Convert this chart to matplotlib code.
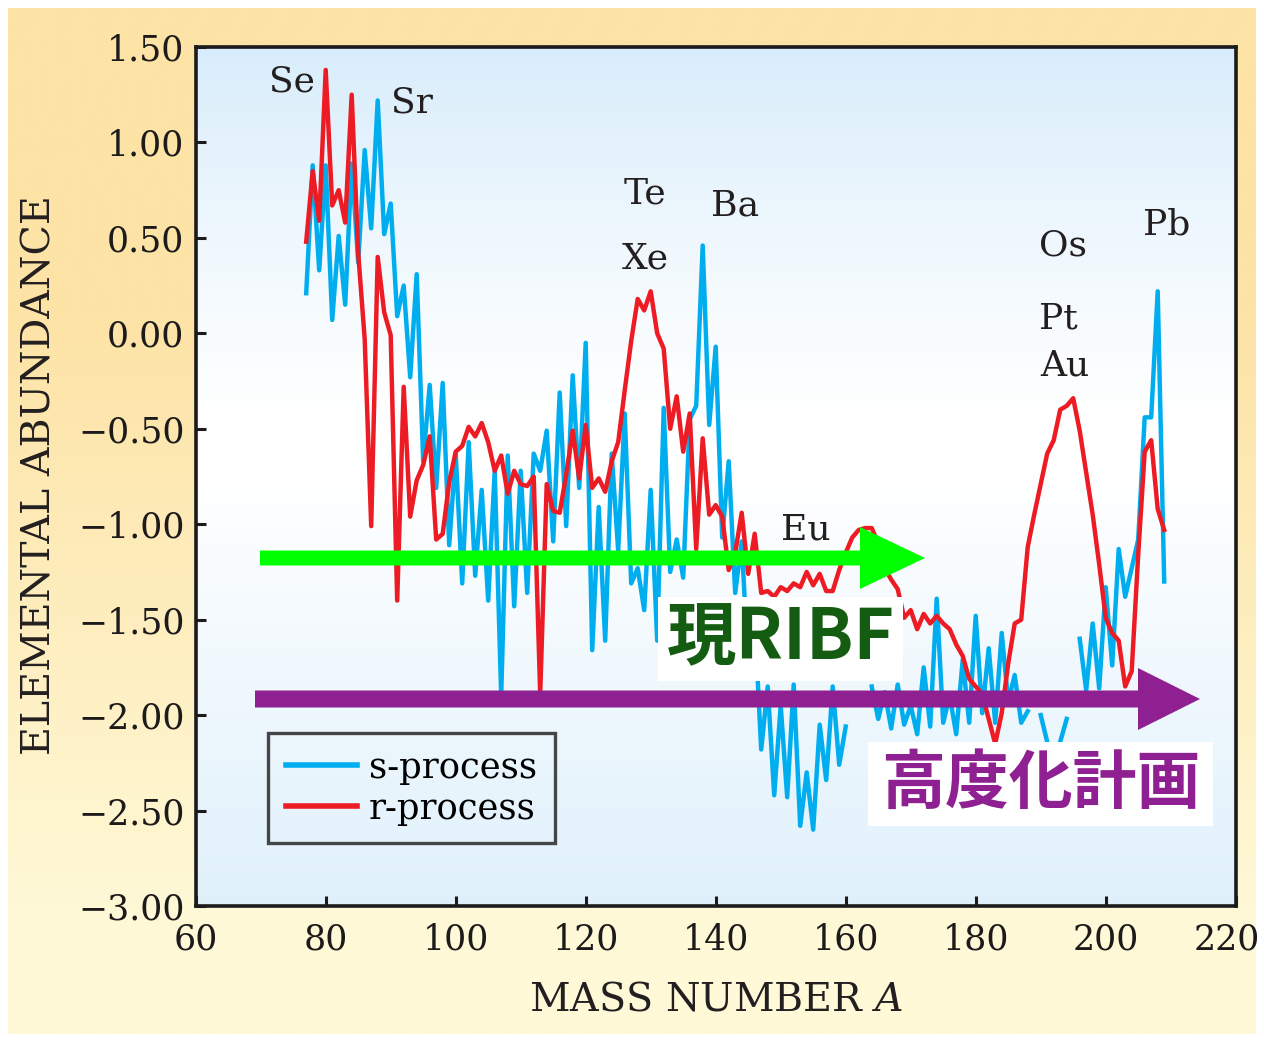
import numpy as np
import matplotlib.pyplot as plt
from matplotlib.patches import FancyArrow, Rectangle
from matplotlib.transforms import ScaledTranslation

W, H = 1264, 1042

# solar-system abundances split into s- and r-process parts, one value per mass number
mass_number = np.arange(77, 210)
s_process = np.array([
    0.21, 0.88, 0.33, 0.88, 0.07, 0.51, 0.15, 0.89, 0.37, 0.96,
    0.55, 1.22, 0.52, 0.68, 0.09, 0.25, -0.23, 0.31, -0.67, -0.27,
    -0.81, -0.26, -1.11, -0.63, -1.31, -0.57, -1.27, -0.82, -1.40, -0.72,
    -1.90, -0.64, -1.43, -0.72, -1.36, -0.63, -0.72, -0.51, -1.09, -0.31,
    -1.01, -0.22, -0.81, -0.05, -1.66, -0.91, -1.61, -0.63, -1.14, -0.42,
    -1.31, -1.23, -1.45, -0.82, -1.61, -0.39, -1.25, -1.08, -1.28, -0.45,
    -0.38, 0.46, -0.48, -0.07, -1.07, -0.67, -1.36, -1.09, -1.75, -1.50,
    -2.18, -1.85, -2.42, -1.95, -2.43, -1.84, -2.58, -2.30, -2.60, -2.05,
    -2.34, -1.85, -2.26, -2.06, np.nan, np.nan, np.nan, -1.85, -2.02, -1.88,
    -2.07, -1.84, -2.05, -1.95, -2.10, -1.75, -2.06, -1.39, -2.04, -1.90,
    -2.10, -1.71, -2.04, -1.48, -1.99, -1.65, -2.04, -1.57, -1.93, -1.79,
    -2.04, -1.98, np.nan, -2.00, -2.14, np.nan, -2.14, -2.02, np.nan, -1.60,
    -1.87, -1.52, -1.86, -1.33, -1.74, -1.13, -1.38, -1.23, -1.08, -0.44,
    -0.44, 0.22, -1.30])
r_process = np.array([
    0.48, 0.85, 0.59, 1.38, 0.67, 0.75, 0.58, 1.25, 0.42, -0.03,
    -1.01, 0.40, 0.11, -0.01, -1.40, -0.28, -0.96, -0.77, -0.69, -0.54,
    -1.08, -1.05, -0.78, -0.62, -0.59, -0.49, -0.54, -0.47, -0.57, -0.72,
    -0.64, -0.84, -0.72, -0.79, -0.80, -0.75, -1.89, -0.79, -0.93, -0.94,
    -0.74, -0.51, -0.76, -0.48, -0.81, -0.76, -0.83, -0.67, -0.57, -0.30,
    -0.04, 0.18, 0.12, 0.22, 0.00, -0.08, -0.50, -0.33, -0.62, -0.42,
    -1.13, -0.55, -0.95, -0.90, -0.96, -1.24, -1.15, -0.94, -1.26, -1.05,
    -1.36, -1.35, -1.38, -1.33, -1.35, -1.31, -1.33, -1.25, -1.32, -1.26,
    -1.35, -1.35, -1.24, -1.15, -1.07, -1.03, -1.02, -1.02, -1.10, -1.23,
    -1.29, -1.34, -1.49, -1.45, -1.55, -1.47, -1.52, -1.48, -1.52, -1.55,
    -1.63, -1.69, -1.81, -1.85, -1.89, -2.02, -2.15, -1.99, -1.73, -1.52,
    -1.50, -1.12, -0.95, -0.79, -0.63, -0.56, -0.40, -0.38, -0.34, -0.51,
    -0.73, -0.95, -1.21, -1.49, -1.57, -1.61, -1.85, -1.77, -1.16, -0.62,
    -0.56, -0.92, -1.03])

elements = ['Se', 'Sr', 'Te', 'Xe', 'Ba', 'Eu', 'Os', 'Pt', 'Au', 'Pb']
element_x = [74.8, 93.3, 129.1, 129.1, 143.0, 153.9, 193.4, 192.7, 193.7, 209.4]
element_y = [1.32, 1.21, 0.73, 0.39, 0.67, -1.03, 0.46, 0.08, -0.17, 0.57]

x_ticks = np.arange(60, 221, 20)
y_ticks = np.arange(-3.0, 1.51, 0.5)

plt.rcParams['font.family'] = 'DejaVu Serif'
plt.rcParams['mathtext.fontset'] = 'dejavuserif'

fig = plt.figure(figsize=(W / 100, H / 100), dpi=100, facecolor='white')

# warm panel behind everything
bg = fig.add_axes([0, 0, 1, 1], zorder=-10)
bg.set_xlim(0, W)
bg.set_ylim(H, 0)
bg.axis('off')
gy, gx = np.mgrid[0:1:256j, 0:1:256j]
t = np.clip((gy - 0.3) / 0.6, 0, 1)[..., None]
peach = np.array([253, 227, 166]) / 255
cream = np.array([255, 249, 216]) / 255
bg.imshow(peach * (1 - t) + cream * t, extent=(8, W - 8, H - 8, 8),
          aspect='auto', interpolation='bicubic')

ax = fig.add_axes([195.7 / W, 1 - 906 / H, 1040 / W, 859 / H])
ax.set_xlim(60, 220)
ax.set_ylim(-3.0, 1.5)

# pale blue wash inside the frame, white in the middle
b = np.maximum(np.clip(1 - gy / 0.45, 0, 1) ** 1.3,
               0.8 * np.clip((gy - 0.5) / 0.5, 0, 1))[..., None]
sky = np.array([216, 237, 251]) / 255
ax.imshow(np.ones(3) * (1 - b) + sky * b, extent=(60, 220, -3.0, 1.5),
          aspect='auto', interpolation='bicubic', zorder=0)

ax.plot(mass_number, s_process, color='#00aeef', lw=3.2, label='s-process', zorder=2)
ax.plot(mass_number, r_process, color='#ed1c24', lw=3.2, label='r-process', zorder=2)

for name, x, y in zip(elements, element_x, element_y):
    ax.text(x, y, name, fontsize=26, ha='center', va='center', color='#231f20', zorder=4)

for side in ax.spines.values():
    side.set_linewidth(2.6)
    side.set_color('#1c1a1a')
ax.set_xticks(x_ticks)
ax.set_yticks(y_ticks)
ax.set_xticklabels([str(v) for v in x_ticks])
ax.set_yticklabels([f'{v:.2f}'.replace('-', '\u2212') for v in y_ticks])
ax.tick_params(direction='in', length=7, width=2.2, top=False, right=False,
               labelsize=25, colors='#1c1a1a')
ax.tick_params(axis='x', pad=12)
ax.tick_params(axis='y', pad=8)
# keep the last x label inside the canvas
last = ax.get_xticklabels()[-1]
last.set_transform(last.get_transform() + ScaledTranslation(-0.09, 0, fig.dpi_scale_trans))

fig.text(40 / W, 1 - 475 / H, 'ELEMENTAL ABUNDANCE', rotation=90, fontsize=28.5,
         ha='center', va='center', color='#231f20')
fig.text(716 / W, 1 - 1000 / H, 'MASS NUMBER $A$', fontsize=28.5,
         ha='center', va='center', color='#231f20')

leg = ax.legend(loc='lower left', bbox_to_anchor=(0.0695, 0.073), fontsize=25.5,
                fancybox=False, edgecolor='#1c1a1a', facecolor='none',
                handlelength=2.0, handletextpad=0.35, borderpad=0.5,
                labelspacing=0.2, borderaxespad=0)
leg.get_frame().set_linewidth(2.4)
for line in leg.get_lines():
    line.set_linewidth(4)


def arrow(x0, tip, y, shaft, head_w, head_len, color):
    fig.add_artist(FancyArrow(x0 / W, 1 - y / H, (tip - x0) / W, 0,
                              width=shaft / H, head_width=head_w / H,
                              head_length=head_len / W, length_includes_head=True,
                              color=color, lw=0, transform=fig.transFigure, zorder=5))


def label_box(x0, x1, y0, y1, text, size, color):
    fig.add_artist(Rectangle((x0 / W, 1 - y1 / H), (x1 - x0) / W, (y1 - y0) / H,
                             facecolor='white', edgecolor='none',
                             transform=fig.transFigure, zorder=3))
    fig.text((x0 + x1) / 2 / W, 1 - (y0 + y1) / 2 / H, text, fontsize=size,
             fontweight='bold', color=color, ha='center', va='center',
             family=['Noto Sans CJK JP', 'DejaVu Sans'], zorder=4)


arrow(260, 925, 558, 15, 62, 65, '#00ff00')
arrow(255, 1200, 699, 17, 62, 62, '#8e2091')
label_box(658, 903, 597, 681, '現RIBF', 50, '#145c12')
label_box(868, 1213, 742, 826, '高度化計画', 46, '#8e2091')

fig.savefig('out.png', dpi=100, facecolor='white')
